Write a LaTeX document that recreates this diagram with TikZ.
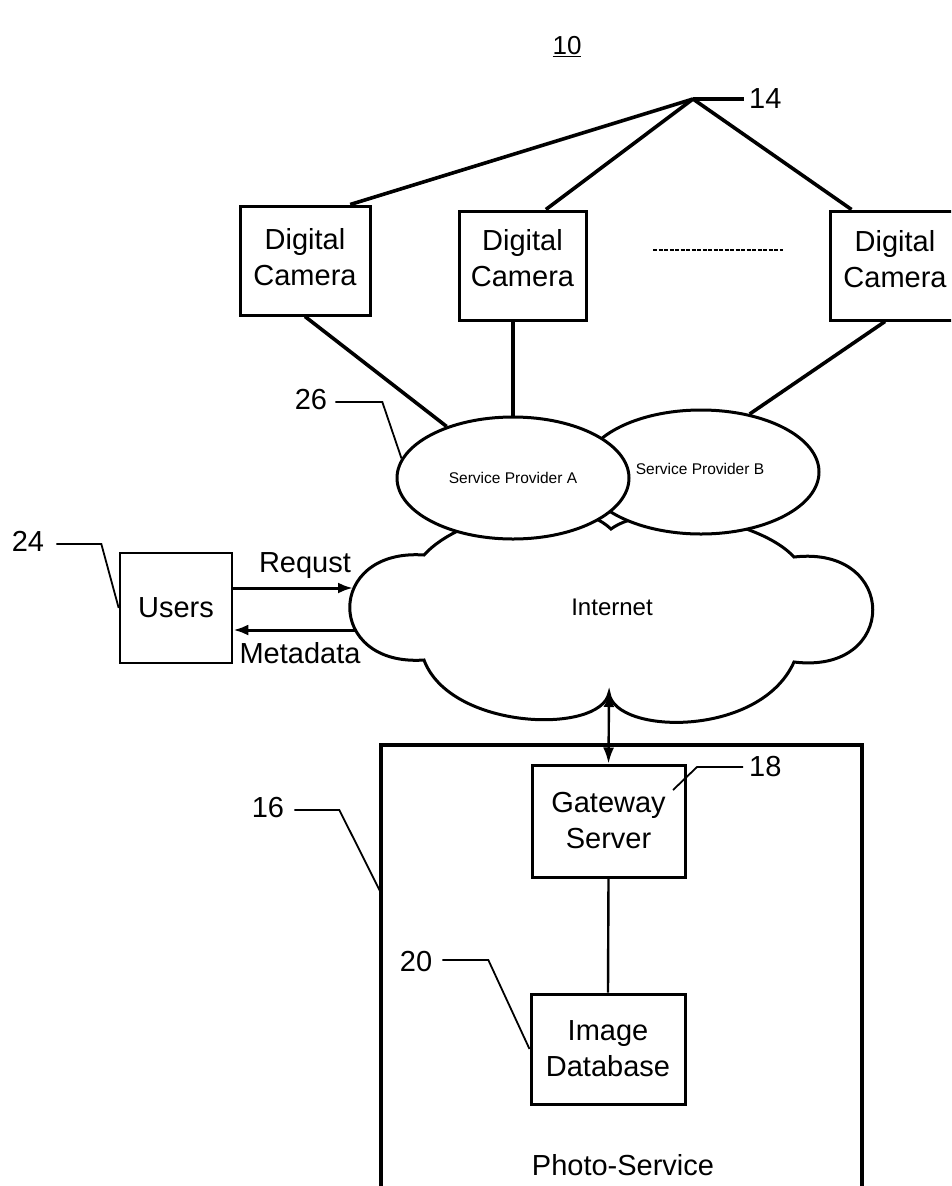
\documentclass[tikz,border=0pt]{standalone}
\usepackage{fontspec}
\setmainfont{Liberation Sans}
\usetikzlibrary{shapes.geometric,arrows.meta,calc}
\begin{document}
\begin{tikzpicture}[x=1pt,y=-1pt,
  box/.style={draw,rectangle,line width=3pt,inner sep=0pt},
  lbl/.style={font=\fontsize{29}{36}\selectfont,inner sep=0pt,align=center},
  small/.style={font=\fontsize{15.5}{18}\selectfont,inner sep=0pt},
  conn/.style={line width=3.6pt},
  leader/.style={line width=1.8pt},
  oval/.style={ellipse,draw,line width=3pt,fill=white,inner sep=0pt},
  tip/.style={-{Latex[length=15pt,width=11pt]}}]
\useasboundingbox (0,0) rectangle (951,1186);
\clip (0,0) rectangle (951,1186);

% title
\node[font=\fontsize{26}{30}\selectfont,inner sep=0pt] (n10) at (567,47) {\underline{10}};

% cameras
\node[box,minimum width=130pt,minimum height=109pt] (cam1) at (305,260.5) {};
\node[lbl] (cam1t) at (305,257.5) {Digital\\Camera};
\node[box,minimum width=127pt,minimum height=109pt] (cam2) at (522.5,265.5) {};
\node[lbl] (cam2t) at (522.5,258.5) {Digital\\Camera};
\node[box,minimum width=130pt,minimum height=109pt] (cam3) at (895,265.5) {};
\node[lbl] (cam3t) at (895,259.5) {Digital\\Camera};
\draw[line width=2.2pt,dash pattern=on 4pt off 1.5pt] (653,250) -- (783,250);

% reference 14
\coordinate (J) at (693,99);
\coordinate (J14) at (744,99);
\node[lbl,anchor=west] (n14) at (749,99) {14};
\draw[conn] (J) -- ($(cam1.north west)!0.84!(cam1.north east)$);
\draw[conn] (J) -- ($(cam2.north west)!0.68!(cam2.north east)$);
\draw[conn] (J) -- ($(cam3.north west)+(23,0)$);
\draw[conn] (J) -- (J14);

% Internet cloud
\draw[line width=3pt,fill=white]
  (424,555) .. controls (325,548) and (325,667) .. (424,660)
  .. controls (450,730) and (600,735) .. (609,693)
  .. controls (615,735) and (760,738) .. (794,662)
  .. controls (899,675) and (899,545) .. (794,557)
  .. controls (760,520) and (650,500) .. (611,529)
  .. controls (570,490) and (460,515) .. cycle;
\node[font=\fontsize{24}{28}\selectfont,inner sep=0pt] (inet) at (612,607) {Internet};
\coordinate (cusp) at (609,693);
\coordinate (cReq) at (353,588);
\coordinate (cMeta) at (356,630);

% service providers
\node[oval,minimum width=236pt,minimum height=124pt] (B) at (701,472) {};
\node[small] (Bt) at (700,469) {Service Provider B};
\node[oval,minimum width=232pt,minimum height=122pt,small] (A) at (513,478) {Service Provider A};

\draw[conn] (cam1.south) -- (A);
\draw[conn] (cam2.south -| A.north) -- (A.north);
\draw[conn] ($(cam3.south)+(-10,0)$) -- (B.50);

% reference 26
\node[lbl] (n26) at (311,400) {26};
\draw[leader] ($(n26.east)+(8,2)$) -- ++(47,0) -- (A.170);

% users
\node[box,line width=2.6pt,minimum width=112pt,minimum height=110pt,lbl] (users) at (176,608) {Users};
\node[lbl] (n24) at (28,541) {24};
\draw[leader] ($(n24.east)+(12,3)$) -- ++(45,0) -- (users.west);
\draw[line width=3pt,tip] (users.east |- cReq) -- (cReq);
\draw[line width=3pt,tip] (cMeta) -- (users.east |- cMeta);
\node[lbl] (req) at (305,566) {Requst};
\node[lbl] (meta) at (300,653) {Metadata};

% photo service
\node[draw,line width=4.4pt,minimum width=481pt,minimum height=480pt,inner sep=0pt] (ps) at (621.5,985) {};
\node[lbl] (pst) at (623,1165) {Photo-Service};
\node[lbl] (n16) at (268,808) {16};
\coordinate (c16) at (381,893);
\draw[leader] ($(n16.east)+(10,2)$) -- ++(45,0) -- (c16);

\node[box,minimum width=153pt,minimum height=112pt,lbl] (gw) at (608.5,821) {Gateway\\Server};
\node[lbl,anchor=west] (n18) at (749,767) {18};
\coordinate (c18) at (673,790);
\draw[leader] ($(n18.west)+(-6,0)$) -- ++(-46,0) -- (c18);

\node[box,minimum width=154pt,minimum height=110pt,lbl] (db) at (608,1049) {Image\\Database};
\node[lbl] (n20) at (416,962) {20};
\draw[leader] ($(n20.east)+(10,-2)$) -- ++(46,0) -- (db.west);

\draw[line width=2.4pt,{Latex[length=14pt,width=11pt]}-{Latex[length=16pt,width=11pt]}] (cusp) -- (gw.north);
\draw[line width=2.4pt] (gw.south) -- (db.north);
\end{tikzpicture}
\end{document}
